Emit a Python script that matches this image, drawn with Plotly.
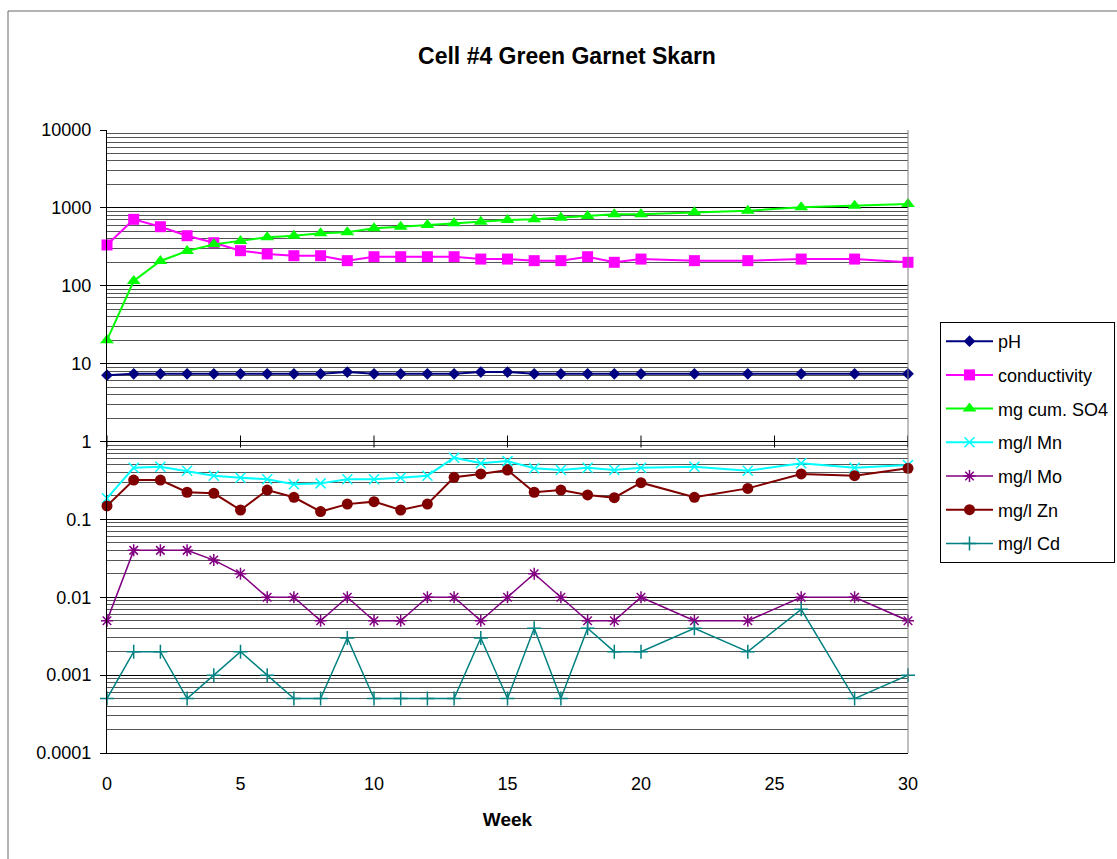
import plotly.graph_objects as go

weeks = [0, 1, 2, 3, 4, 5, 6, 7, 8, 9, 10, 11, 12, 13, 14, 15, 16, 17, 18, 19, 20, 22, 24, 26, 28, 30]

ph = [7.1, 7.4, 7.4, 7.4, 7.4, 7.4, 7.4, 7.4, 7.4, 7.8, 7.4, 7.4, 7.4, 7.4, 7.8, 7.8,
      7.4, 7.4, 7.4, 7.4, 7.4, 7.4, 7.4, 7.4, 7.4, 7.4]
conductivity = [334, 713, 573, 439, 357, 282, 256, 243, 243, 210, 236, 236, 236, 236, 220, 220,
                210, 210, 236, 200, 220, 210, 210, 220, 220, 200]
so4_cum = [20, 115, 208, 279, 340, 376, 419, 439, 471, 485, 546, 573, 602, 633, 664, 700,
           713, 748, 787, 827, 827, 877, 920, 1016, 1067, 1122]
mn = [0.187, 0.46, 0.475, 0.42, 0.364, 0.343, 0.327, 0.282, 0.29, 0.327, 0.327, 0.343, 0.364,
      0.62, 0.525, 0.56, 0.453, 0.43, 0.46, 0.43, 0.46, 0.475, 0.42, 0.525, 0.46, 0.5]
mo = [0.005, 0.04, 0.04, 0.04, 0.03, 0.02, 0.01, 0.01, 0.005, 0.01, 0.005, 0.005, 0.01, 0.01,
      0.005, 0.01, 0.02, 0.01, 0.005, 0.005, 0.01, 0.005, 0.005, 0.01, 0.01, 0.005]
zn = [0.149, 0.32, 0.32, 0.223, 0.216, 0.132, 0.238, 0.192, 0.126, 0.157, 0.169, 0.132, 0.157,
      0.347, 0.383, 0.43, 0.223, 0.238, 0.206, 0.19, 0.296, 0.192, 0.25, 0.383, 0.364, 0.453]
cd = [0.0005, 0.002, 0.002, 0.0005, 0.001, 0.002, 0.001, 0.0005, 0.0005, 0.003, 0.0005, 0.0005,
      0.0005, 0.0005, 0.003, 0.0005, 0.004, 0.0005, 0.004, 0.002, 0.002, 0.004, 0.002, 0.007,
      0.0005, 0.001]

series_names = ["pH", "conductivity", "mg cum. SO4", "mg/l Mn", "mg/l Mo", "mg/l Zn", "mg/l Cd"]
series_values = [ph, conductivity, so4_cum, mn, mo, zn, cd]

x_tick_vals = [0, 5, 10, 15, 20, 25, 30]
y_tick_vals = [0.0001, 0.001, 0.01, 0.1, 1, 10, 100, 1000, 10000]
y_tick_text = ["0.0001", "0.001", "0.01", "0.1", "1", "10", "100", "1000", "10000"]

styles = [
    dict(color="#000080", symbol="diamond", size=9, lw=2, filled=True),
    dict(color="#FF00FF", symbol="square", size=11, lw=2, filled=True),
    dict(color="#00FF00", symbol="triangle-up", size=12, lw=2, filled=True),
    dict(color="#00FFFF", symbol="x-thin", size=10, lw=2, filled=False),
    dict(color="#800080", symbol="asterisk", size=10, lw=1.5, filled=False),
    dict(color="#800000", symbol="circle", size=11, lw=2, filled=True),
    dict(color="#008080", symbol="cross-thin", size=10, lw=1.5, filled=False),
]

FONT = "Arial, 'Liberation Sans', sans-serif"

fig = go.Figure()
for i, (name, vals, st) in enumerate(zip(series_names, series_values, styles)):
    marker = dict(symbol=st["symbol"], size=st["size"], color=st["color"])
    if not st["filled"]:
        marker["line"] = dict(color=st["color"], width=1.5)
    else:
        marker["line"] = dict(width=0)
    fig.add_trace(go.Scatter(
        x=weeks, y=vals, name=name, mode="lines+markers",
        line=dict(color=st["color"], width=st["lw"]),
        marker=marker, legendgroup=f"g{i}",
        cliponaxis=False,
    ))

minor_vals = [m * 10 ** e for e in range(-4, 4) for m in range(2, 10)]

fig.update_layout(
    width=1117, height=859,
    margin=dict(l=107, r=209, t=130, b=106, autoexpand=False),
    paper_bgcolor="white", plot_bgcolor="white",
    font=dict(family=FONT, size=18, color="black"),
    title=dict(text="<b>Cell #4 Green Garnet Skarn</b>", xref="container", yref="container",
               x=567 / 1117, y=1 - 56 / 859, xanchor="center", yanchor="middle",
               font=dict(family=FONT, size=23, color="black")),
    showlegend=True,
    legend=dict(x=(940 - 107) / 801, y=(753 - 322) / 623, xanchor="left", yanchor="top",
                bordercolor="#000000", borderwidth=1, bgcolor="white",
                font=dict(family=FONT, size=18, color="black"),
                itemwidth=47,
                tracegroupgap=7.3, traceorder="grouped"),
    xaxis=dict(range=[0, 30], tickvals=x_tick_vals, showgrid=False, zeroline=False,
               showline=True, linecolor="black", linewidth=1, ticks="",
               ticklabelstandoff=14,
               title=dict(text="<b>Week</b>", font=dict(family=FONT, size=19), standoff=20)),
    yaxis=dict(type="log", range=[-4, 4], tickvals=y_tick_vals, ticktext=y_tick_text,
               showgrid=True, gridcolor="black", gridwidth=1, zeroline=False,
               showline=True, linecolor="black", linewidth=1,
               ticks="outside", ticklen=6, tickcolor="black", ticklabelstandoff=5,
               minor=dict(tickvals=minor_vals, showgrid=True, gridcolor="#555555",
                          gridwidth=1, ticks="")),
)

shapes = []
# outer chart-area border (left and top visible)
shapes.append(dict(type="rect", xref="paper", yref="paper",
                   x0=(8 - 107) / 801, x1=(1125 - 107) / 801,
                   y0=(753 - 870) / 623, y1=(753 - 11) / 623,
                   line=dict(color="#666666", width=1), layer="below"))
# right border of plot area
shapes.append(dict(type="line", xref="paper", yref="paper", x0=1, x1=1, y0=0, y1=1,
                   line=dict(color="#808080", width=1)))
# crossing ticks of the category axis at y = 1
for xv in x_tick_vals:
    shapes.append(dict(type="line", xref="x", yref="paper", x0=xv, x1=xv,
                       y0=0.5 - 6 / 623, y1=0.5 + 6 / 623,
                       line=dict(color="black", width=1)))
fig.update_layout(shapes=shapes)

fig.write_html("out.html")
